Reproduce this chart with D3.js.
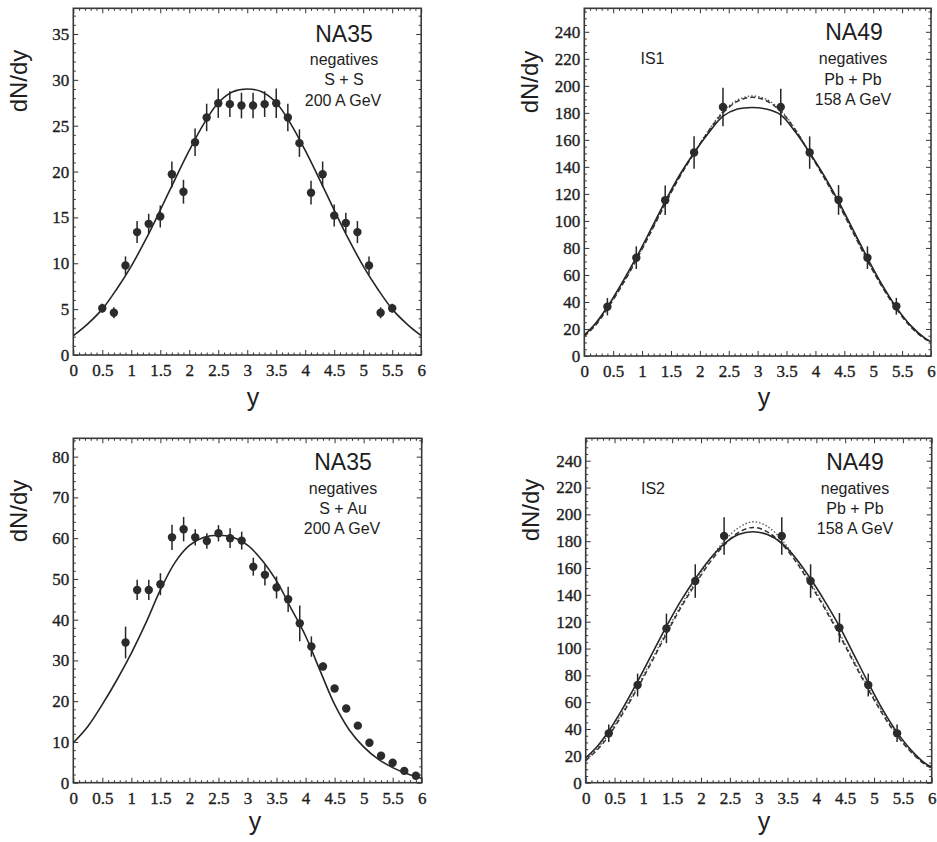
<!DOCTYPE html>
<html>
<head>
<meta charset="utf-8">
<script src="https://cdn.jsdelivr.net/npm/d3@7"></script>
<style>
  html, body { margin: 0; padding: 0; background: #fff; }
  svg { display: block; }
  .lab { font-family: "Liberation Sans", Arial, sans-serif; fill: #1e1e1e; }
</style>
</head>
<body>
<svg id="chart" width="937" height="842"></svg>
<script>
// ---------------- DATA ----------------
const xTickValues = [0, 0.5, 1, 1.5, 2, 2.5, 3, 3.5, 4, 4.5, 5, 5.5, 6];
const xTickLabels = ["0", "0.5", "1", "1.5", "2", "2.5", "3", "3.5", "4", "4.5", "5", "5.5", "6"];

// Panel 1: NA35 negatives S + S 200 A GeV
const ssTicks = [0, 5, 10, 15, 20, 25, 30, 35];
const ssY   = [0.5, 0.7, 0.9, 1.1, 1.3, 1.5, 1.7, 1.9, 2.1, 2.3, 2.5, 2.7, 2.9, 3.1, 3.3, 3.5, 3.7, 3.9, 4.1, 4.3, 4.5, 4.7, 4.9, 5.1, 5.3, 5.5];
const ssN   = [5.1, 4.6, 9.75, 13.4, 14.3, 15.1, 19.7, 17.8, 23.2, 25.9, 27.45, 27.35, 27.2, 27.2, 27.35, 27.45, 25.9, 23.1, 17.7, 19.7, 15.2, 14.4, 13.4, 9.75, 4.6, 5.1];
const ssErr = [0.5, 0.6, 1.0, 1.2, 1.1, 1.2, 1.4, 1.3, 1.5, 1.5, 1.6, 1.4, 1.4, 1.4, 1.4, 1.6, 1.5, 1.5, 1.3, 1.4, 1.2, 1.1, 1.2, 1.0, 0.6, 0.5];
const ssCurveY = [0, 0.25, 0.5, 0.75, 1, 1.25, 1.5, 1.75, 2, 2.25, 2.5, 2.75, 3, 3.25, 3.5, 3.75, 4, 4.25, 4.5, 4.75, 5, 5.25, 5.5, 5.75, 6];
const ssCurveN = [2.1, 3.4, 5.0, 7.2, 9.7, 12.6, 15.8, 19.1, 22.3, 25.2, 27.5, 28.7, 29.0, 28.7, 27.5, 25.2, 22.3, 19.1, 15.8, 12.6, 9.7, 7.2, 5.0, 3.4, 2.1];

// Panel 2 & 4: NA49 negatives Pb + Pb 158 A GeV
const pbTicks = [0, 20, 40, 60, 80, 100, 120, 140, 160, 180, 200, 220, 240];
const pbY = [0.4, 0.9, 1.4, 1.9, 2.4, 3.4, 3.9, 4.4, 4.9, 5.4];
const is1N   = [36.5, 72.8, 115.3, 150.6, 184.3, 184.3, 150.6, 115.5, 72.8, 36.8];
const is1Err = [6.4, 8.4, 11, 12, 14.3, 13.5, 12, 11, 8.4, 6.2];
const is2N   = [36.8, 72.8, 115, 150.3, 183.9, 183.9, 150.3, 115.5, 72.8, 36.8];
const is2Err = [6.5, 8.5, 11, 12.5, 14, 14, 12.5, 11, 8.5, 6.5];
const pbCurveY = [0, 0.2, 0.4, 0.65, 0.9, 1.15, 1.4, 1.65, 1.9, 2.15, 2.4, 2.65, 2.9, 3.15, 3.4, 3.65, 3.9, 4.15, 4.4, 4.65, 4.9, 5.15, 5.4, 5.65, 5.9, 6.0];
const is1Solid  = [15.5, 24.5, 36.5, 54, 73, 93.5, 114.5, 134, 150.5, 165, 177.5, 182.8, 184, 182.8, 178.5, 166, 150.5, 133.5, 114.5, 93.5, 72.5, 53, 36, 22.5, 13, 10.5];
const is1Dashed = [14.5, 23, 35, 52, 71, 91.5, 112.5, 132.5, 150, 166.5, 180, 188.5, 191.5, 189, 181, 167.5, 150, 132, 112.5, 91.5, 70.5, 51.5, 35, 21.5, 12.5, 10.5];
const is1Dotted = [15, 23.5, 35.5, 52.5, 71.5, 92, 113, 133, 150.5, 167, 181, 189.5, 192.5, 190, 182, 168, 150.5, 132.5, 113, 92, 71, 52, 35.5, 22, 12.8, 10.8];
const is2Solid  = [18.5, 27, 38.5, 56, 75.5, 96, 116.5, 135.5, 152, 166.5, 178, 185, 187, 185, 178.5, 167, 152, 135, 116.5, 95.5, 74.5, 54.5, 37.5, 24, 14, 11.8];
const is2Dashed = [16.5, 24.5, 35, 52, 70.5, 90.5, 111, 130.5, 148, 164, 177, 186.5, 190.3, 187, 178, 164.5, 147.5, 129.5, 110, 89.5, 69.5, 51, 35, 22.5, 13, 11];
const is2Dotted = [17.5, 25.5, 36.5, 53.5, 72, 92, 112.5, 132, 149.5, 166, 180, 190, 194.5, 191, 181, 166.5, 149, 131, 111.5, 91, 71, 52.5, 36, 23, 13.5, 11.5];

// Panel 3: NA35 negatives S + Au 200 A GeV
const sauTicks = [0, 10, 20, 30, 40, 50, 60, 70, 80];
const sauY   = [0.9, 1.1, 1.3, 1.5, 1.7, 1.9, 2.1, 2.3, 2.5, 2.7, 2.9, 3.1, 3.3, 3.5, 3.7, 3.9, 4.1, 4.3, 4.5, 4.7, 4.9, 5.1, 5.3, 5.5, 5.7, 5.9];
const sauN   = [34.4, 47.3, 47.3, 48.7, 60.2, 62.2, 60.2, 59.3, 61.2, 60.0, 59.4, 53.0, 51.0, 47.9, 45.0, 39.1, 33.4, 28.5, 23.1, 18.2, 14.0, 9.8, 6.6, 4.9, 2.9, 1.7];
const sauErr = [3.9, 2.5, 2.5, 2.7, 3.1, 3.0, 2.0, 1.9, 2.0, 2.4, 2.2, 2.2, 2.6, 2.7, 3.1, 4.4, 2.5, 1.0, 0.5, 0.5, 0.5, 0.5, 0.5, 0.5, 0.5, 0.5];
const sauCurveY = [0, 0.25, 0.5, 0.75, 1, 1.25, 1.5, 1.75, 2, 2.25, 2.5, 2.75, 3, 3.25, 3.5, 3.75, 4, 4.25, 4.5, 4.75, 5, 5.25, 5.5, 5.75, 6];
const sauCurveN = [9.8, 13.8, 19.2, 25.2, 31.8, 39.2, 47.3, 54.0, 58.2, 60.2, 60.7, 60.2, 58.3, 54.6, 49.5, 42.8, 36.0, 27.5, 19.2, 13.0, 8.8, 5.8, 3.7, 2.2, 1.1];

// ---------------- LAYOUT ----------------
const panels = [
  { frame: {l: 73.3, r: 421.2, t: 8.3, b: 355}, yMax: 37.8, yTicks: ssTicks, yMinor: 1,
    pts: {x: ssY, y: ssN, e: ssErr},
    curves: [{x: ssCurveY, y: ssCurveN, style: "solid"}],
    yTitle: {x: 27, y: 81}, xTitle: {x: 253, y: 406},
    texts: [
      {t: "NA35", x: 344, y: 42, size: 23},
      {t: "negatives", x: 344, y: 65, size: 16},
      {t: "S + S", x: 344, y: 85, size: 16},
      {t: "200 A GeV", x: 343, y: 106, size: 16}
    ]},
  { frame: {l: 584.3, r: 931, t: 8.3, b: 356}, yMax: 257.4, yTicks: pbTicks, yMinor: 5,
    pts: {x: pbY, y: is1N, e: is1Err},
    curves: [
      {x: pbCurveY, y: is1Dotted, style: "dotted"},
      {x: pbCurveY, y: is1Dashed, style: "dashed"},
      {x: pbCurveY, y: is1Solid, style: "solid"}],
    yTitle: {x: 538, y: 82}, xTitle: {x: 764, y: 406},
    texts: [
      {t: "NA49", x: 854, y: 39.5, size: 23},
      {t: "IS1", x: 652.5, y: 64, size: 16},
      {t: "negatives", x: 853, y: 64, size: 16},
      {t: "Pb + Pb", x: 853, y: 85, size: 16},
      {t: "158 A GeV", x: 853, y: 105, size: 16}
    ]},
  { frame: {l: 73.3, r: 421.7, t: 438.3, b: 782.7}, yMax: 84.5, yTicks: sauTicks, yMinor: 2,
    pts: {x: sauY, y: sauN, e: sauErr},
    curves: [{x: sauCurveY, y: sauCurveN, style: "solid"}],
    yTitle: {x: 26.5, y: 511}, xTitle: {x: 255, y: 830},
    texts: [
      {t: "NA35", x: 343, y: 470, size: 23},
      {t: "negatives", x: 343, y: 494, size: 16},
      {t: "S + Au", x: 343, y: 514, size: 16},
      {t: "200 A GeV", x: 342, y: 533.5, size: 16}
    ]},
  { frame: {l: 585.7, r: 931.7, t: 438.3, b: 782.7}, yMax: 256.7, yTicks: pbTicks, yMinor: 5,
    pts: {x: pbY, y: is2N, e: is2Err},
    curves: [
      {x: pbCurveY, y: is2Dotted, style: "dotted"},
      {x: pbCurveY, y: is2Dashed, style: "dashed"},
      {x: pbCurveY, y: is2Solid, style: "solid"}],
    yTitle: {x: 539, y: 510}, xTitle: {x: 764, y: 830},
    texts: [
      {t: "NA49", x: 855, y: 470, size: 23},
      {t: "IS2", x: 653, y: 494, size: 16},
      {t: "negatives", x: 855, y: 494, size: 16},
      {t: "Pb + Pb", x: 855, y: 514, size: 16},
      {t: "158 A GeV", x: 855, y: 533.5, size: 16}
    ]}
];

const svg = d3.select("#chart");
const ink = "#262626";

function styleTicks(sel) {
  sel.select(".domain").remove();
  sel.selectAll(".tick line").attr("stroke", "#333").attr("stroke-width", 1);
  sel.selectAll(".tick text")
    .style("font-family", "'Liberation Serif', 'Times New Roman', serif")
    .style("font-size", "17px")
    .style("fill", "#1e1e1e")
    .style("stroke", "#1e1e1e")
    .style("stroke-width", "0.35px");
}

panels.forEach((p, i) => {
  const f = p.frame;
  const x = d3.scaleLinear().domain([0, 6]).range([f.l, f.r]);
  const y = d3.scaleLinear().domain([0, p.yMax]).range([f.b, f.t]);
  const g = svg.append("g");

  const clipId = "clip" + i;
  svg.append("clipPath").attr("id", clipId).append("rect")
    .attr("x", f.l).attr("y", f.t).attr("width", f.r - f.l).attr("height", f.b - f.t);

  const xMinor = d3.range(0, 60.5, 1).map(d => d / 10).filter(v => !xTickValues.some(t => Math.abs(t - v) < 1e-6));
  const yMinorVals = d3.range(0, p.yMax + 1e-9, p.yMinor).filter(v => !p.yTicks.some(t => Math.abs(t - v) < 1e-6));

  // bottom
  g.append("g").attr("transform", `translate(0,${f.b})`)
    .call(d3.axisBottom(x).tickValues(xTickValues).tickSize(-5).tickPadding(9)
      .tickFormat((d, k) => xTickLabels[k])).call(styleTicks);
  g.append("g").attr("transform", `translate(0,${f.b})`)
    .call(d3.axisBottom(x).tickValues(xMinor).tickSize(-2.5).tickFormat("")).call(styleTicks);
  // top
  g.append("g").attr("transform", `translate(0,${f.t})`)
    .call(d3.axisTop(x).tickValues(xTickValues).tickSize(-5).tickFormat("")).call(styleTicks);
  g.append("g").attr("transform", `translate(0,${f.t})`)
    .call(d3.axisTop(x).tickValues(xMinor).tickSize(-2.5).tickFormat("")).call(styleTicks);
  // left
  g.append("g").attr("transform", `translate(${f.l},0)`)
    .call(d3.axisLeft(y).tickValues(p.yTicks).tickSize(-5).tickPadding(4).tickFormat(d3.format("d"))).call(styleTicks);
  g.append("g").attr("transform", `translate(${f.l},0)`)
    .call(d3.axisLeft(y).tickValues(yMinorVals).tickSize(-2.5).tickFormat("")).call(styleTicks);
  // right
  g.append("g").attr("transform", `translate(${f.r},0)`)
    .call(d3.axisRight(y).tickValues(p.yTicks).tickSize(-5).tickFormat("")).call(styleTicks);
  g.append("g").attr("transform", `translate(${f.r},0)`)
    .call(d3.axisRight(y).tickValues(yMinorVals).tickSize(-2.5).tickFormat("")).call(styleTicks);

  // frame
  g.append("rect").attr("x", f.l).attr("y", f.t).attr("width", f.r - f.l).attr("height", f.b - f.t)
    .attr("fill", "none").attr("stroke", "#3a3a3a").attr("stroke-width", 1.6);

  // curves
  const line = d3.line().x(d => x(d[0])).y(d => y(d[1])).curve(d3.curveCatmullRom.alpha(0.5));
  p.curves.forEach(c => {
    const data = c.x.map((v, k) => [v, c.y[k]]);
    const path = g.append("path").attr("d", line(data)).attr("fill", "none")
      .attr("clip-path", `url(#${clipId})`);
    if (c.style === "solid") path.attr("stroke", ink).attr("stroke-width", 1.6);
    if (c.style === "dashed") path.attr("stroke", "#333").attr("stroke-width", 1.5).attr("stroke-dasharray", "5,3");
    if (c.style === "dotted") path.attr("stroke", "#555").attr("stroke-width", 1.3).attr("stroke-dasharray", "1.5,2");
  });

  // error bars + points
  const pts = p.pts.x.map((v, k) => ({x: v, y: p.pts.y[k], e: p.pts.e[k]}));
  g.selectAll(null).data(pts).join("line")
    .attr("x1", d => x(d.x)).attr("x2", d => x(d.x))
    .attr("y1", d => y(d.y - d.e)).attr("y2", d => y(d.y + d.e))
    .attr("stroke", ink).attr("stroke-width", 1.5);
  g.selectAll(null).data(pts).join("circle")
    .attr("cx", d => x(d.x)).attr("cy", d => y(d.y)).attr("r", 4.2)
    .attr("fill", "#2b2b2b");

  // titles
  g.append("text").attr("class", "lab")
    .attr("transform", `translate(${p.yTitle.x},${p.yTitle.y}) rotate(-90)`)
    .attr("text-anchor", "middle").attr("font-size", 24).text("dN/dy");
  g.append("text").attr("class", "lab")
    .attr("x", p.xTitle.x).attr("y", p.xTitle.y)
    .attr("text-anchor", "middle").attr("font-size", 25).text("y");

  p.texts.forEach(t => {
    g.append("text").attr("class", "lab").attr("x", t.x).attr("y", t.y)
      .attr("text-anchor", "middle").attr("font-size", t.size).text(t.t);
  });
});
</script>
</body>
</html>
